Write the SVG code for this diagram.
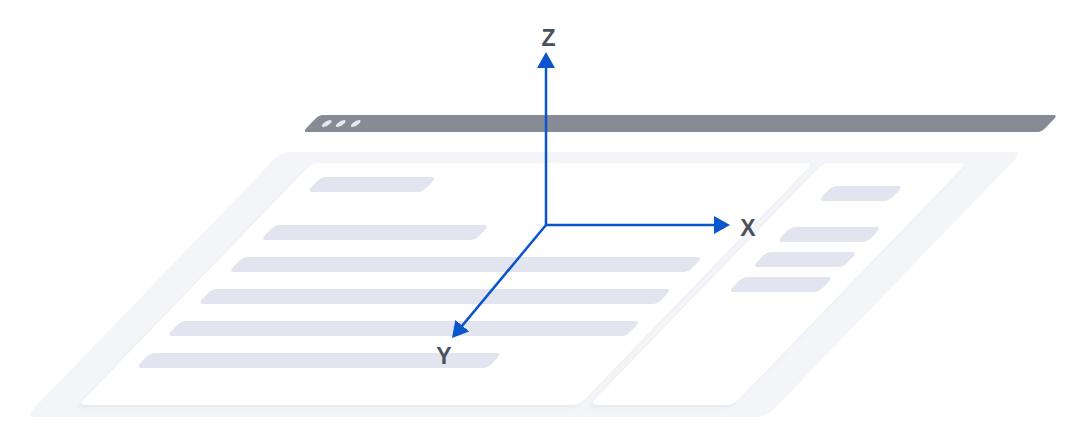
<svg xmlns="http://www.w3.org/2000/svg" width="1080" height="437" viewBox="0 0 1080 437">
  <style>
    .outer { fill: #f4f5f9; }
    .panel { fill: #ffffff; }
    .bar { fill: #e2e5f0; }
    .titlebar { fill: #868b96; }
    .dot { fill: #e6e8ef; }
    .axis { stroke: #0b55cc; stroke-width: 2.5; fill: none; }
    .label { font-family: "Liberation Sans", Arial, sans-serif; font-weight: bold; font-size: 23px; fill: #4b505b; text-anchor: middle; }
  </style>
  <defs>
    <marker id="arrow" markerUnits="userSpaceOnUse" markerWidth="18" markerHeight="18" refX="12" refY="9" orient="auto">
      <path d="M0,0 L16,9 L0,18 z" fill="#0b55cc"/>
    </marker>
    <filter id="soft" x="-5%" y="-5%" width="110%" height="115%">
      <feDropShadow dx="0" dy="2" stdDeviation="2" flood-color="#9aa0b4" flood-opacity="0.18"/>
    </filter>
  </defs>
  <rect width="1080" height="437" fill="#ffffff"/>
  <g id="window" transform="skewX(-44)">
    <rect id="titlebar" class="titlebar" x="430" y="115" width="739" height="17" rx="4"/>
    <g id="dots">
      <circle class="dot" cx="446" cy="123.5" r="3.5"/>
      <circle class="dot" cx="460" cy="123.5" r="3.5"/>
      <circle class="dot" cx="475" cy="123.5" r="3.5"/>
    </g>
    <rect id="frame" class="outer" x="428" y="152" width="741" height="265" rx="8"/>
    <g id="main-panel">
      <rect class="panel" x="469.4" y="163" width="501" height="242" rx="6" filter="url(#soft)"/>
      <rect class="bar" x="492" y="177" width="116" height="15" rx="5"/>
      <rect class="bar" x="492" y="225" width="215" height="15" rx="5"/>
      <rect class="bar" x="491" y="257" width="460" height="15" rx="5"/>
      <rect class="bar" x="491" y="289" width="460" height="15" rx="5"/>
      <rect class="bar" x="491" y="321" width="460" height="15" rx="5"/>
      <rect class="bar" x="491" y="353" width="352" height="15" rx="5"/>
    </g>
    <g id="side-panel">
      <rect class="panel" x="980.4" y="163" width="144" height="242" rx="6" filter="url(#soft)"/>
      <rect class="bar" x="1012" y="186" width="71" height="15" rx="5"/>
      <rect class="bar" x="1010" y="227" width="91" height="15" rx="5"/>
      <rect class="bar" x="1010" y="252" width="91" height="15" rx="5"/>
      <rect class="bar" x="1010" y="277" width="91" height="15" rx="5"/>
    </g>
  </g>
  <g id="connectors">
    <line class="axis" x1="546" y1="225" x2="546" y2="56" marker-end="url(#arrow)"/>
    <line class="axis" x1="546" y1="225" x2="726" y2="225" marker-end="url(#arrow)"/>
    <line class="axis" x1="546" y1="225" x2="454.6" y2="334.9" marker-end="url(#arrow)"/>
  </g>
  <g id="label-z"><text class="label" x="548.5" y="46">Z</text></g>
  <g id="label-x"><text class="label" x="748" y="236">X</text></g>
  <g id="label-y"><text class="label" x="444" y="364">Y</text></g>
</svg>
